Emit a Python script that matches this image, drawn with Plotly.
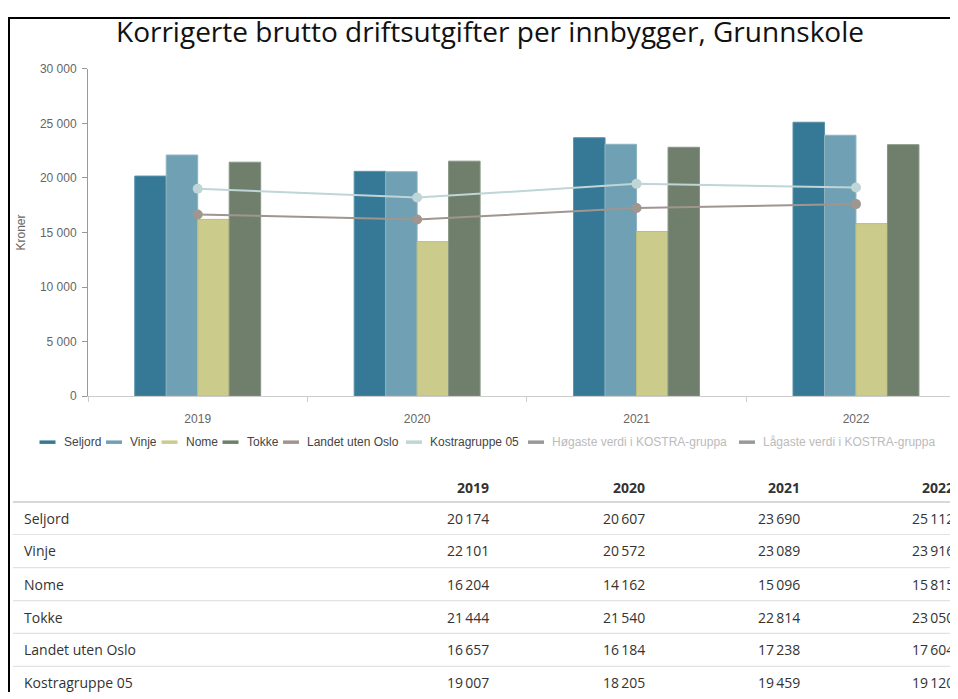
import plotly.graph_objects as go

# ---------------- data ----------------
years = ["2019", "2020", "2021", "2022"]
seljord = [20174, 20607, 23690, 25112]
vinje = [22101, 20572, 23089, 23916]
nome = [16204, 14162, 15096, 15815]
tokke = [21444, 21540, 22814, 23050]
landet_uten_oslo = [16657, 16184, 17238, 17604]
kostragruppe_05 = [19007, 18205, 19459, 19120]
hogaste = [None, None, None, None]
lagaste = [None, None, None, None]

bar_names = ["Seljord", "Vinje", "Nome", "Tokke"]
line_names = ["Landet uten Oslo", "Kostragruppe 05"]
hidden_names = ["Høgaste verdi i KOSTRA-gruppa", "Lågaste verdi i KOSTRA-gruppa"]
table_rows = ["Seljord", "Vinje", "Nome", "Tokke", "Landet uten Oslo", "Kostragruppe 05"]
y_tick_vals = [0, 5000, 10000, 15000, 20000, 25000, 30000]

title_text = "Korrigerte brutto driftsutgifter per innbygger, Grunnskole"
y_title = "Kroner"

# ---------------- styling ----------------
# the page body adds an 8px offset, so the figure is 8px smaller and all
# reference pixel positions are shifted by OFF
OFF = 8
W, H = 950, 691
bar_colors = ["#357997", "#6fa0b3", "#cbcb8c", "#6f7f6c"]
bar_edges = ["#5a92aa", "#8db4c3", "#bdbd7a", "#879585"]
line_colors = ["#a0958f", "#bfd5d6"]
hidden_color = "#999999"


def X(px):
    return (px - OFF) / W


def Y(py):
    return 1 - (py - OFF) / H


fig = go.Figure()

bar_values = [seljord, vinje, nome, tokke]
for name, vals, col, edge in zip(bar_names, bar_values, bar_colors, bar_edges):
    fig.add_trace(go.Bar(
        x=years, y=vals, name=name,
        marker=dict(color=col, line=dict(color=edge, width=1)),
        showlegend=False,
    ))

line_values = [landet_uten_oslo, kostragruppe_05]
for name, vals, col in zip(line_names, line_values, line_colors):
    fig.add_trace(go.Scatter(
        x=years, y=vals, name=name, mode="lines+markers",
        line=dict(color=col, width=2),
        marker=dict(color=col, size=10),
        showlegend=False,
    ))

for name, vals in zip(hidden_names, [hogaste, lagaste]):
    fig.add_trace(go.Scatter(
        x=years, y=vals, name=name, mode="lines",
        line=dict(color=hidden_color, width=2),
        showlegend=False,
    ))

shapes = []
annotations = []

# ---- frame (left & top edges) ----
shapes.append(dict(type="line", xref="paper", yref="paper",
                   x0=X(9), x1=X(9), y0=Y(10), y1=0,
                   line=dict(color="#000", width=2)))
shapes.append(dict(type="line", xref="paper", yref="paper",
                   x0=X(8), x1=1, y0=Y(11), y1=Y(11),
                   line=dict(color="#000", width=2)))

# ---- custom legend ----
legend_names = bar_names + line_names + hidden_names
legend_colors = bar_colors + line_colors + [hidden_color, hidden_color]
legend_text_colors = ["#444"] * 6 + ["#bbbbbb"] * 2
legend_starts = [39.5, 106, 161.5, 222.5, 283, 406, 528, 739]
leg_y = 444
for name, col, tcol, x0 in zip(legend_names, legend_colors, legend_text_colors, legend_starts):
    shapes.append(dict(type="line", xref="paper", yref="paper",
                       x0=X(x0), x1=X(x0 + 16), y0=Y(leg_y), y1=Y(leg_y),
                       line=dict(color=col, width=3.5)))
    annotations.append(dict(xref="paper", yref="paper", x=X(x0 + 22), y=Y(leg_y),
                            xanchor="left", yanchor="middle", showarrow=False,
                            text=name,
                            font=dict(family="Liberation Sans, Arial", size=12, color=tcol)))

# ---- table ----
def fmt(v):
    return f"{v:,}".replace(",", "\u2009")

table_values = [seljord, vinje, nome, tokke, landet_uten_oslo, kostragruppe_05]
col_right = [491, 647, 802, 956]
header_y = 490
row_ys = [521.5, 555, 589, 622.5, 656, 689.5]
tfont = dict(family="Open Sans", size=14, color="#333")

for yr, xr in zip(years, col_right):
    annotations.append(dict(xref="paper", yref="paper", x=X(xr), y=Y(header_y),
                            xanchor="right", yanchor="middle", showarrow=False,
                            text=f"<b>{yr}</b>", font=tfont))

shapes.append(dict(type="line", xref="paper", yref="paper",
                   x0=X(13), x1=1, y0=Y(505), y1=Y(505),
                   line=dict(color="#d8d8d8", width=2)))
for i, (label, vals) in enumerate(zip(table_rows, table_values)):
    ry = row_ys[i]
    annotations.append(dict(xref="paper", yref="paper", x=X(22), y=Y(ry),
                            xanchor="left", yanchor="middle", showarrow=False,
                            text=label, font=tfont))
    for v, xr in zip(vals, col_right):
        annotations.append(dict(xref="paper", yref="paper", x=X(xr), y=Y(ry),
                                xanchor="right", yanchor="middle", showarrow=False,
                                text=fmt(v), font=tfont))
    if i < len(table_rows) - 1:
        ly = (row_ys[i] + row_ys[i + 1]) / 2
        shapes.append(dict(type="line", xref="paper", yref="paper",
                           x0=X(13), x1=1, y0=Y(ly), y1=Y(ly),
                           line=dict(color="#e2e2e2", width=1.2)))

fig.update_layout(
    width=W, height=H,
    margin=dict(l=0, r=0, t=0, b=0),
    paper_bgcolor="white", plot_bgcolor="white",
    separators=", ",
    barmode="group", bargap=0.426, bargroupgap=0,
    showlegend=False,
    title=dict(text=title_text, x=X(490), xanchor="center", y=Y(32), yanchor="middle",
               font=dict(family="Open Sans", size=28, color="#111")),
    xaxis=dict(
        domain=[X(88), 1], type="category", range=[-0.5, 3.465],
        showline=True, linecolor="#cccccc", linewidth=1,
        ticks="outside", tickson="boundaries", ticklen=5, tickcolor="#cccccc",
        ticklabelstandoff=11,
        tickfont=dict(family="Liberation Sans, Arial", size=12, color="#666"),
        showgrid=False, zeroline=False,
    ),
    yaxis=dict(
        domain=[Y(397), Y(63)], range=[0, 30000],
        tickvals=y_tick_vals, tickformat=",",
        showline=True, linecolor="#999999", linewidth=1,
        ticks="outside", ticklen=5, tickcolor="#999999",
        ticklabelstandoff=3,
        tickfont=dict(family="Liberation Sans, Arial", size=12, color="#666"),
        showgrid=False, zeroline=False,
        title=dict(text=y_title, standoff=11,
                   font=dict(family="Liberation Sans, Arial", size=12, color="#666")),
    ),
    shapes=shapes,
    annotations=annotations,
)

fig.write_html("out.html")
